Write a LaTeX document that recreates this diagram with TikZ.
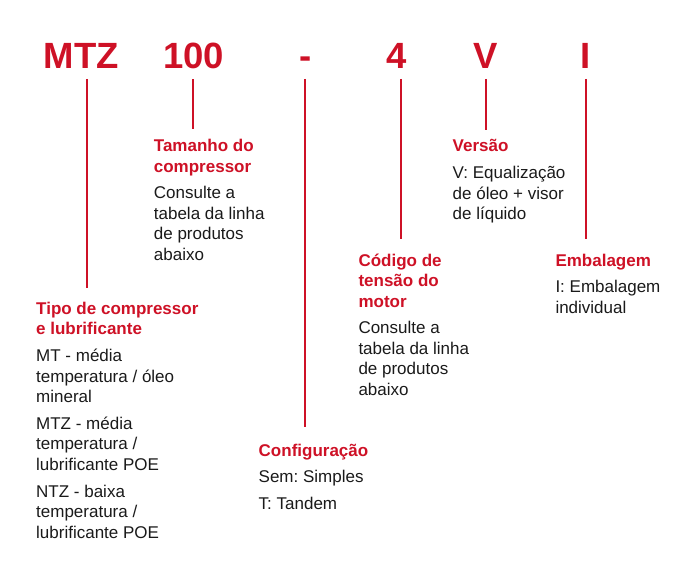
\documentclass[tikz,border=0pt]{standalone}
\usepackage{fontspec}
\setmainfont{Liberation Sans}

\definecolor{codered}{HTML}{CE1126}
\definecolor{ink}{HTML}{1A1A1A}
\newcommand{\hd}[1]{\leavevmode{\color{codered}\bfseries #1}\par}
\newcommand{\blocktext}[1]{\parbox[t]{200pt}{\fontsize{17}{20.5}\selectfont
  \frenchspacing\parindent=0pt\parskip=6.3pt\raggedright #1}}

\tikzset{
  code/.style={anchor=base, inner sep=0pt, outer ysep=10.7pt, text=codered,
    font=\fontsize{36.5}{36}\selectfont\bfseries},
  note/.style={anchor=base west, inner sep=0pt, text=ink},
  lead/.style={draw=codered, line width=2pt}
}

\begin{document}
\begin{tikzpicture}[x=1pt,y=-1pt]
\useasboundingbox (0,0) rectangle (677,577);
% code letters
\node[code] (mtz) at (81.3,68.3) {MTZ};
\node[code] (size) at (193.8,68.3) {100};
\node[code] (dash) at (305.3,68.3) {-};
\node[code] (volt) at (396.5,68.3) {4};
\node[code] (vers) at (485.5,68.3) {V};
\node[code] (pack) at (585.8,68.3) {I};
% explanations
\node[note] (tam) at (153.7,151.7) {\blocktext{\hd{Tamanho do\\compressor}Consulte a\\tabela da linha\\de produtos\\abaixo}};
\node[note] (tipo) at (36,314.3) {\blocktext{\hd{Tipo de compressor\\e lubrificante}MT - média\\temperatura / óleo\\mineral\par MTZ - média\\temperatura /\\lubrificante POE\par NTZ - baixa\\temperatura /\\lubrificante POE}};
\node[note] (conf) at (258.5,456) {\blocktext{\hd{Configuração}Sem: Simples\par T: Tandem}};
\node[note] (cod) at (358.3,266) {\blocktext{\hd{Código de\\tensão do\\motor}Consulte a\\tabela da linha\\de produtos\\abaixo}};
\node[note] (versao) at (452.5,152) {\blocktext{\hd{Versão}V: Equalização\\de óleo + visor\\de líquido}};
\node[note] (emb) at (555.3,266) {\blocktext{\hd{Embalagem}I: Embalagem\\individual}};
% line ends
\coordinate (tipo-in) at (87,288.3);
\coordinate (tam-in) at (193,129.3);
\coordinate (conf-in) at (305,426.7);
\coordinate (cod-in) at (401,239);
\coordinate (versao-in) at (486,130);
\coordinate (emb-in) at (586,239);
\draw[lead] (tipo-in |- mtz.south) -- (tipo-in);
\draw[lead] (tam-in |- size.south) -- (tam-in);
\draw[lead] (conf-in |- dash.south) -- (conf-in);
\draw[lead] (cod-in |- volt.south) -- (cod-in);
\draw[lead] (versao-in |- vers.south) -- (versao-in);
\draw[lead] (emb-in |- pack.south) -- (emb-in);
\end{tikzpicture}
\end{document}
